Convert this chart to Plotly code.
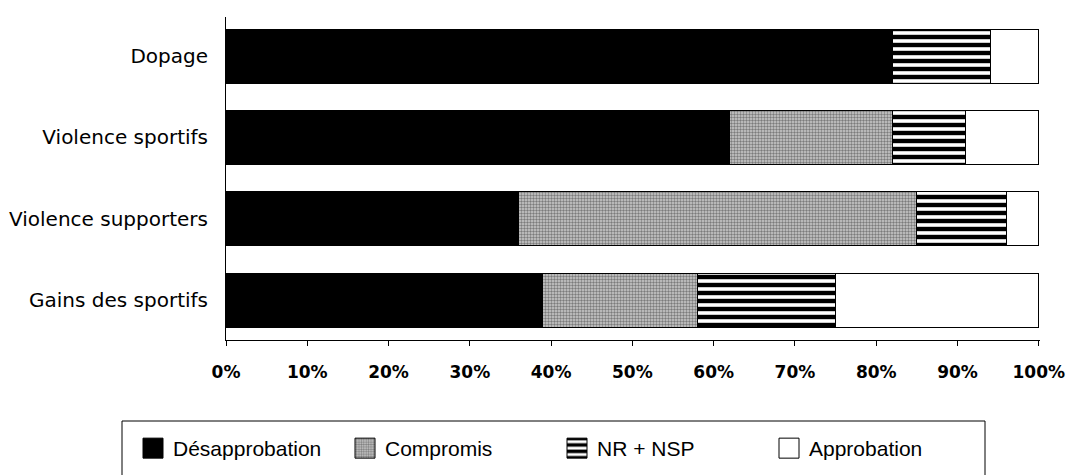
import plotly.graph_objects as go

categories = ["Gains des sportifs", "Violence supporters", "Violence sportifs", "Dopage"]
desapprobation = [39, 36, 62, 82]
compromis = [19, 49, 20, 0]
nr_nsp = [17, 11, 9, 12]
approbation = [25, 4, 9, 6]
tick_vals = [0, 10, 20, 30, 40, 50, 60, 70, 80, 90, 100]
tick_text = ["0%", "10%", "20%", "30%", "40%", "50%", "60%", "70%", "80%", "90%", "100%"]

OFF = 8  # page body margin
W, H = 1074 - OFF, 475 - OFF
PL, PR, PT, PB = 226, 1040, 17, 340   # plot area in page pixels
L, R, T, B = PL - OFF, W - (PR - OFF), PT - OFF, H - (PB - OFF)

def px_x(p):
    return (p - PL) / (PR - PL)

def px_y(p):
    return (PB - p) / (PB - PT)

line = dict(color="black", width=1)
fig = go.Figure()
fig.add_trace(go.Bar(y=categories, x=desapprobation, orientation="h", name="Désapprobation",
                     marker=dict(color="black", line=line), width=0.664))
fig.add_trace(go.Bar(y=categories, x=compromis, orientation="h", name="Compromis",
                     marker=dict(color="#b0b0b0", line=line,
                                 pattern=dict(shape=".", fgcolor="#2a2a2a", bgcolor="#cccccc",
                                              size=3, solidity=0.5)), width=0.664))
fig.add_trace(go.Bar(y=categories, x=nr_nsp, orientation="h", name="NR + NSP",
                     marker=dict(color="white", line=line,
                                 pattern=dict(shape="-", fgcolor="black", bgcolor="white",
                                              size=8, solidity=0.55, fgopacity=1)), width=0.664))
fig.add_trace(go.Bar(y=categories, x=approbation, orientation="h", name="Approbation",
                     marker=dict(color="white", line=line), width=0.664))

fig.add_shape(type="rect", xref="paper", yref="paper",
              x0=px_x(122), x1=px_x(985), y0=px_y(421), y1=px_y(520),
              line=dict(color="black", width=1), fillcolor="rgba(0,0,0,0)")

fig.update_layout(
    width=W, height=H,
    barmode="stack",
    paper_bgcolor="white", plot_bgcolor="white",
    margin=dict(l=L, r=R, t=T, b=B, autoexpand=False),
    showlegend=True,
    legend=dict(orientation="h", x=px_x(133), y=px_y(428), xanchor="left", yanchor="top",
                font=dict(family="Liberation Sans", size=21, color="black"),
                entrywidth=167, entrywidthmode="pixels", traceorder="normal",
                bgcolor="rgba(0,0,0,0)", borderwidth=0),
    xaxis=dict(range=[0, 100.15], tickvals=tick_vals, ticktext=tick_text,
               showline=True, linecolor="black", linewidth=1, ticks="outside",
               ticklen=5, tickcolor="black", showgrid=False, zeroline=False,
               ticklabelstandoff=12,
               tickfont=dict(family="DejaVu Sans", size=17, color="black", weight="bold")),
    yaxis=dict(range=[-0.49, 3.48], showline=True, linecolor="black", linewidth=1,
               ticks="", showgrid=False, zeroline=False, ticklabelstandoff=13,
               tickfont=dict(family="DejaVu Sans", size=20, color="black")),
)

post = """
var gd = document.getElementById('{plot_id}');
function fixSwatches() {
  gd.querySelectorAll('.legend .legendpoints path').forEach(function (p) {
    p.setAttribute('d', 'M10,10H-10V-10H10Z');
  });
}
fixSwatches();
gd.on('plotly_afterplot', fixSwatches);
"""

fig.write_html("out.html", post_script=post)
